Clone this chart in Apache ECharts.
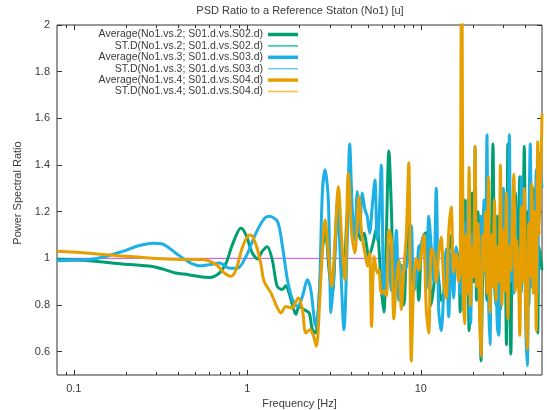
<!DOCTYPE html>
<html>
<head>
<meta charset="utf-8">
<script src="https://cdn.jsdelivr.net/npm/echarts@6/dist/echarts.min.js"></script>
<style>
  html, body { margin: 0; padding: 0; background: #fff; }
  #chart { width: 547px; height: 410px; }
</style>
</head>
<body>
<div id="chart"></div>
<script>
// low / mid frequency part, read per series
const greenFreq = [0.080, 0.122, 0.191, 0.284, 0.325, 0.386, 0.458, 0.550, 0.605, 0.690, 0.755, 0.820, 0.920, 0.983, 1.068, 1.146, 1.219, 1.303, 1.392, 1.487, 1.589, 1.669, 1.744, 1.821, 1.905, 1.990, 2.126, 2.272, 2.373, 2.482, 2.617, 2.708, 2.829, 2.960, 3.093, 3.230, 3.348, 3.501, 3.608, 3.771, 3.945, 4.121, 4.305, 4.503, 4.703, 5.024, 5.250, 5.609]
const greenAvg = [0.996, 0.990, 0.976, 0.965, 0.954, 0.937, 0.930, 0.920, 0.918, 0.937, 0.980, 1.058, 1.130, 1.100, 1.023, 0.997, 1.030, 1.050, 0.995, 0.880, 0.866, 0.883, 0.850, 0.800, 0.760, 0.794, 0.780, 0.766, 0.694, 0.680, 0.880, 1.037, 1.108, 0.950, 0.852, 1.080, 1.237, 0.965, 0.923, 1.194, 1.210, 1.108, 1.137, 1.080, 1.108, 1.008, 1.050, 1.137]

const blueFreq = [0.080, 0.122, 0.153, 0.191, 0.236, 0.284, 0.325, 0.386, 0.458, 0.530, 0.605, 0.690, 0.788, 0.880, 0.983, 1.122, 1.252, 1.338, 1.493, 1.596, 1.704, 1.821, 1.945, 2.079, 2.221, 2.323, 2.482, 2.593, 2.708, 2.807, 2.933, 3.040, 3.162, 3.304, 3.455, 3.608, 3.771, 3.894, 4.030, 4.159, 4.305, 4.444, 4.599, 4.766, 4.913, 5.072, 5.250, 5.440, 5.609]
const blueAvg = [0.990, 0.995, 1.008, 1.030, 1.054, 1.065, 1.061, 1.023, 0.985, 0.968, 0.973, 0.980, 0.958, 0.958, 1.008, 1.108, 1.170, 1.180, 1.158, 1.050, 0.908, 0.823, 0.794, 0.837, 0.908, 0.866, 0.708, 0.823, 1.280, 1.380, 1.250, 0.766, 0.937, 1.237, 0.965, 0.694, 1.080, 1.490, 1.210, 1.080, 1.286, 1.108, 1.280, 1.210, 1.180, 1.108, 1.220, 1.336, 1.080]

const orangeFreq = [0.080, 0.122, 0.191, 0.284, 0.386, 0.458, 0.553, 0.661, 0.738, 0.806, 0.861, 0.940, 1.027, 1.073, 1.146, 1.199, 1.252, 1.368, 1.493, 1.562, 1.669, 1.821, 1.862, 1.971, 2.079, 2.175, 2.293, 2.395, 2.502, 2.617, 2.708, 2.807, 2.933, 3.068, 3.204, 3.348, 3.501, 3.656, 3.822, 3.998, 4.170, 4.403, 4.563, 4.766, 4.940, 5.072, 5.208, 5.390, 5.609]
const orangeAvg = [1.030, 1.022, 1.010, 1.000, 0.996, 0.995, 0.995, 0.973, 0.937, 0.923, 0.951, 1.050, 1.100, 1.094, 1.037, 0.973, 0.900, 0.852, 0.787, 0.766, 0.794, 0.787, 0.800, 0.830, 0.780, 0.680, 0.694, 0.673, 0.623, 0.823, 1.037, 1.165, 1.023, 0.880, 1.080, 1.308, 1.080, 0.908, 1.365, 1.108, 1.023, 1.265, 1.108, 1.023, 0.965, 1.023, 0.708, 1.008, 0.937]

// 5.7 - 16.5 Hz, shared sampling
const midFreq = [5.735, 5.929, 6.130, 6.336, 6.549, 6.768, 6.997, 7.233, 7.474, 7.726, 7.987, 8.253, 8.531, 8.818, 9.116, 9.421, 9.739, 10.07, 10.40, 10.76, 11.12, 11.49, 11.88, 12.28, 12.69, 13.12, 13.56, 14.01, 14.49, 14.98, 15.47, 16.00, 16.53]
const greenMid = [1.05, 0.87, 0.77, 1.10, 1.46, 1.22, 0.86, 0.93, 0.99, 0.85, 0.80, 1.03, 1.17, 0.92, 0.90, 0.96, 0.82, 1.05, 1.10, 1.11, 1.02, 0.80, 0.88, 1.00, 0.91, 0.82, 0.85, 0.90, 1.02, 1.10, 0.98, 0.95, 1.02]
const blueMid = [1.15, 1.40, 0.84, 0.95, 1.06, 0.86, 0.91, 1.12, 0.82, 0.97, 0.95, 0.96, 1.02, 1.14, 0.86, 0.90, 1.05, 1.06, 1.10, 0.87, 1.18, 1.05, 0.90, 1.30, 0.78, 0.69, 0.85, 1.04, 0.75, 1.02, 0.83, 1.05, 0.97]
const orangeMid = [0.95, 0.85, 0.86, 0.84, 1.12, 1.08, 0.74, 0.90, 0.99, 0.78, 0.95, 1.10, 1.41, 0.56, 0.90, 1.00, 0.95, 1.02, 1.10, 0.78, 0.68, 1.04, 1.02, 0.90, 1.02, 1.09, 0.90, 0.83, 1.11, 1.22, 0.94, 1.02, 0.90]

// 16.9 - 50 Hz, shared sampling
const highFreq = [16.87, 17.21, 17.55, 17.90, 18.26, 18.63, 19.00, 19.38, 19.77, 20.16, 20.57, 20.98, 21.40, 21.83, 22.26, 22.71, 23.16, 23.62, 24.10, 24.58, 25.07, 25.57, 26.08, 26.60, 27.14, 27.68, 28.23, 28.80, 29.37, 29.96, 30.56, 31.17, 31.80, 32.43, 33.08, 33.74, 34.42, 35.11, 35.81, 36.52, 37.25, 38.00, 38.76, 39.53, 40.32, 41.13, 41.95, 42.79, 43.65, 44.52, 45.41, 46.32, 47.25, 48.19, 50.0]
const greenHigh = [0.77, 1.10, 0.92, 1.25, 0.85, 1.05, 0.69, 1.00, 1.28, 0.90, 1.12, 0.82, 1.20, 0.95, 0.56, 0.90, 1.22, 1.00, 0.82, 1.15, 0.95, 1.10, 1.49, 0.92, 0.80, 1.18, 1.00, 0.78, 1.25, 0.90, 1.08, 0.63, 1.49, 1.00, 0.59, 1.15, 0.95, 1.28, 0.88, 1.12, 1.35, 0.85, 1.05, 1.48, 0.92, 1.20, 0.80, 1.10, 0.95, 1.30, 0.88, 1.15, 0.68, 1.05, 0.95]
const blueHigh = [0.85, 1.05, 0.78, 1.15, 0.92, 1.25, 0.88, 0.72, 1.10, 0.95, 1.48, 0.90, 1.02, 0.80, 1.18, 0.92, 1.25, 0.98, 1.53, 0.85, 0.63, 1.08, 0.90, 1.20, 0.95, 0.70, 0.67, 1.12, 0.88, 1.30, 0.96, 1.15, 0.82, 1.53, 0.90, 1.10, 0.85, 1.22, 0.95, 1.05, 0.80, 1.35, 0.92, 1.15, 0.70, 0.54, 1.10, 1.49, 0.88, 1.25, 0.95, 1.38, 0.85, 1.45, 1.30]
const orangeHigh = [0.95, 2.60, 0.90, 0.72, 1.10, 0.85, 1.39, 0.80, 1.05, 0.92, 1.48, 0.88, 1.15, 0.75, 0.58, 1.10, 0.95, 1.20, 0.85, 1.35, 0.77, 1.10, 0.88, 1.25, 0.82, 1.05, 0.90, 1.40, 0.80, 1.12, 0.86, 1.28, 0.74, 1.05, 0.95, 1.18, 1.36, 0.86, 1.08, 0.94, 0.67, 1.22, 0.90, 1.30, 0.78, 0.61, 1.15, 0.92, 1.32, 0.85, 1.20, 0.69, 1.50, 1.10, 1.62]

const refFreq = [0.08, 50]
const refVal = [1, 1]

const xMajorTicks = [0.1, 1, 10]
const xMinorTicks = [0.09, 0.2, 0.3, 0.4, 0.5, 0.6, 0.7, 0.8, 0.9, 2, 3, 4, 5, 6, 7, 8, 9, 20, 30, 40]
const yTicks = [0.6, 0.8, 1, 1.2, 1.4, 1.6, 1.8, 2]

const legendNames = [
  'Average(No1.vs.2; S01.d.vs.S02.d)',
  'ST.D(No1.vs.2; S01.d.vs.S02.d)',
  'Average(No1.vs.3; S01.d.vs.S03.d)',
  'ST.D(No1.vs.3; S01.d.vs.S03.d)',
  'Average(No1.vs.4; S01.d.vs.S04.d)',
  'ST.D(No1.vs.4; S01.d.vs.S04.d)'
]

const FONT = 'Liberation Sans'
const TEXT = '#3a3a3a'
const AXIS = '#333'
const THICK_ICON = 'path://M0,0H30V3.5H0Z'
const THIN_ICON = 'path://M0,0H30V1.5H0Z'

function pairs(fs, vs) {
  return fs.map((f, i) => [f, vs[i]])
}

const chart = echarts.init(document.getElementById('chart'))

function xAxisDef(position, ticks, len, withLabel) {
  return {
    type: 'log',
    logBase: 10,
    min: 0.08,
    max: 50,
    position: position,
    axisLine: { show: false },
    splitLine: { show: false },
    axisTick: { show: true, inside: true, length: len, customValues: ticks, lineStyle: { color: AXIS } },
    axisLabel: withLabel
      ? { customValues: ticks, margin: 8, fontSize: 11, color: TEXT, fontFamily: FONT }
      : { show: false },
    name: withLabel ? 'Frequency [Hz]' : '',
    nameLocation: 'middle',
    nameGap: 23,
    nameTextStyle: { fontSize: 11, color: TEXT, fontFamily: FONT }
  }
}

function yAxisDef(position, withLabel) {
  return {
    type: 'value',
    min: 0.5,
    max: 2,
    position: position,
    axisLine: { show: false },
    splitLine: { show: false },
    axisTick: { show: true, inside: true, length: 5, customValues: yTicks, lineStyle: { color: AXIS } },
    axisLabel: withLabel
      ? { customValues: yTicks, margin: 7, fontSize: 11, color: TEXT, fontFamily: FONT }
      : { show: false },
    name: withLabel ? 'Power Spectral Ratio' : '',
    nameLocation: 'middle',
    nameRotate: 90,
    nameGap: 33,
    nameTextStyle: { fontSize: 11, color: TEXT, fontFamily: FONT, padding: [0, 0, 0, 14] }
  }
}

function avgSeries(name, color, data) {
  return {
    name: name,
    type: 'line',
    data: data,
    symbol: 'none',
    smooth: 0.3,
    clip: true,
    lineStyle: { width: 3, color: color },
    itemStyle: { color: color }
  }
}

function stdSeries(name, color) {
  return {
    name: name,
    type: 'line',
    data: [],
    symbol: 'none',
    lineStyle: { width: 1.5, color: color },
    itemStyle: { color: color }
  }
}

chart.setOption({
  backgroundColor: '#fff',
  animation: false,
  textStyle: { fontFamily: FONT },
  grid: {
    left: 57, right: 5, top: 25, bottom: 35,
    show: true, borderColor: AXIS, borderWidth: 1,
    outerBoundsMode: 'none'
  },
  graphic: [{
    type: 'text',
    x: 300, y: 11,
    style: {
      text: 'PSD Ratio to a Reference Staton (No1) [u]',
      align: 'center', verticalAlign: 'middle',
      fontSize: 11, fill: TEXT, fontFamily: FONT
    }
  }],
  legend: {
    orient: 'vertical',
    align: 'right',
    right: 249,
    top: 29,
    padding: 0,
    itemWidth: 30,
    itemHeight: 10,
    itemGap: 0.4,
    symbolKeepAspect: true,
    textStyle: { fontSize: 10.5, color: TEXT, fontFamily: FONT },
    data: legendNames.map((n, i) => ({
      name: n,
      icon: i % 2 === 0 ? THICK_ICON : THIN_ICON
    }))
  },
  xAxis: [
    xAxisDef('bottom', xMajorTicks, 5, true),
    xAxisDef('bottom', xMinorTicks, 3, false),
    xAxisDef('top', xMajorTicks, 5, false),
    xAxisDef('top', xMinorTicks, 3, false)
  ],
  yAxis: [
    yAxisDef('left', true),
    yAxisDef('right', false)
  ],
  series: [
    {
      name: 'ref',
      type: 'line',
      data: pairs(refFreq, refVal),
      symbol: 'none',
      lineStyle: { width: 1, color: '#cc44ee' },
      z: 1
    },
    avgSeries(legendNames[0], '#009e73',
      pairs(greenFreq, greenAvg).concat(pairs(midFreq, greenMid), pairs(highFreq, greenHigh))),
    stdSeries(legendNames[1], '#22c4a0'),
    avgSeries(legendNames[2], '#1cb0e4',
      pairs(blueFreq, blueAvg).concat(pairs(midFreq, blueMid), pairs(highFreq, blueHigh))),
    stdSeries(legendNames[3], '#66ccf2'),
    avgSeries(legendNames[4], '#e69f00',
      pairs(orangeFreq, orangeAvg).concat(pairs(midFreq, orangeMid), pairs(highFreq, orangeHigh))),
    stdSeries(legendNames[5], '#f7c244')
  ]
})
</script>
</body>
</html>
